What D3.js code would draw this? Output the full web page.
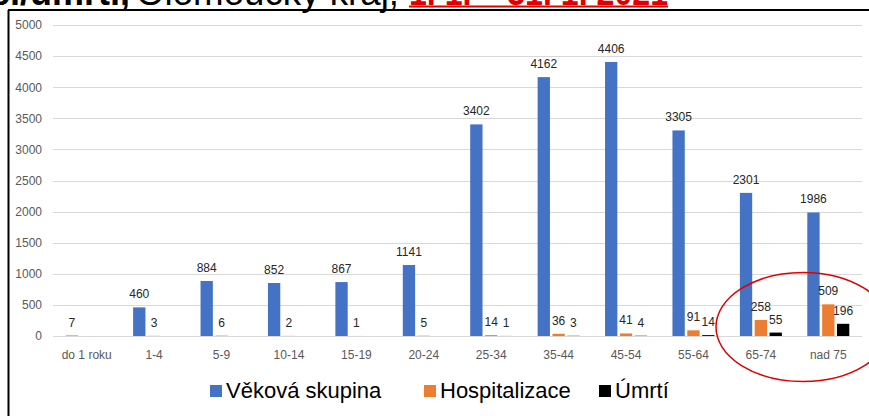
<!DOCTYPE html>
<html><head><meta charset="utf-8">
<script src="https://cdn.jsdelivr.net/npm/d3@7"></script>
<style>body{margin:0;background:#fff}svg{display:block}</style>
</head><body>
<svg id="c" width="869" height="416"></svg>
<script>
const categories = ["do 1 roku","1-4","5-9","10-14","15-19","20-24","25-34","35-44","45-54","55-64","65-74","nad 75"];
const vekovaSkupina = [7,460,884,852,867,1141,3402,4162,4406,3305,2301,1986];
const hospitalizace = [null,3,6,2,1,5,14,36,41,91,258,509];
const umrti = [null,null,null,null,null,null,1,3,4,14,55,196];
const seriesNames = ["Věková skupina","Hospitalizace","Úmrtí"];
const seriesColors = ["#4472C4","#ED7D31","#000000"];
const yTicks = [0,500,1000,1500,2000,2500,3000,3500,4000,4500,5000];

const svg = d3.select("#c");
const font = "'Liberation Sans', Arial, sans-serif";

// cut-off title at top
const t = svg.append("g").attr("font-family", font).attr("font-size", 36);
t.append("text").attr("x",130).attr("y",5).attr("text-anchor","end").attr("font-weight","bold").attr("fill","#000").text("Počet nakažených/hospitalizací/úmrtí,");
t.append("text").attr("x",136).attr("y",5).attr("fill","#000")
  .attr("textLength",263).attr("lengthAdjust","spacingAndGlyphs").text("Olomoucký kraj,");
t.append("text").attr("x",409).attr("y",5).attr("font-weight","bold").attr("fill","#e00000")
  .attr("textLength",259).attr("lengthAdjust","spacingAndGlyphs").text("1. 1. – 31. 1. 2021");
t.append("line").attr("x1",409).attr("x2",668).attr("y1",6.5).attr("y2",6.5).attr("stroke","#e00000").attr("stroke-width",2);

// frame
svg.append("line").attr("x1",8).attr("x2",869).attr("y1",10).attr("y2",10).attr("stroke","#000").attr("stroke-width",2);
svg.append("line").attr("x1",8.5).attr("x2",8.5).attr("y1",10).attr("y2",416).attr("stroke","#000").attr("stroke-width",2);

const x0 = d3.scaleBand().domain(categories).range([53,862]).paddingInner(0.377).paddingOuter(0.1885);
const x1 = d3.scaleBand().domain(seriesNames).range([0,x0.bandwidth()]).paddingInner(0.17);
const y = d3.scaleLinear().domain([0,5000]).range([336,25]);

// gridlines
svg.append("g").selectAll("line").data(yTicks).join("line")
  .attr("x1",53).attr("x2",862).attr("y1",d=>Math.round(y(d))+0.5).attr("y2",d=>Math.round(y(d))+0.5)
  .attr("stroke","#d9d9d9").attr("stroke-width",1);

// y axis
const yAxis = svg.append("g").attr("transform","translate(46,0)")
  .call(d3.axisLeft(y).tickValues(yTicks).tickFormat(d3.format("d")).tickSize(0).tickPadding(4));
yAxis.select(".domain").remove();
yAxis.selectAll("text").attr("font-family",font).attr("font-size",12).attr("fill","#595959");

// x axis
const xAxis = svg.append("g").attr("transform","translate(0,336)")
  .call(d3.axisBottom(x0).tickSize(0).tickPadding(14));
xAxis.select(".domain").remove();
xAxis.selectAll("text").attr("font-family",font).attr("font-size",12).attr("fill","#595959");

const series = [vekovaSkupina, hospitalizace, umrti];
series.forEach((vals, si) => {
  const g = svg.append("g");
  const data = categories.map((c,i)=>({c, v: vals[i]})).filter(d=>d.v!==null);
  g.selectAll("rect").data(data).join("rect")
    .attr("x", d=>x0(d.c)+x1(seriesNames[si]))
    .attr("width", x1.bandwidth())
    .attr("y", d=>y(d.v))
    .attr("height", d=>y(0)-y(d.v))
    .attr("fill", seriesColors[si]);
  g.selectAll("text").data(data).join("text")
    .attr("x", d=>x0(d.c)+x1(seriesNames[si])+x1.bandwidth()/2)
    .attr("y", d=>y(d.v)-9)
    .attr("text-anchor","middle")
    .attr("font-family",font).attr("font-size",12).attr("fill","#262626")
    .text(d=>d.v);
});

// legend
const legendX = [210, 424, 599];
const lg = svg.append("g");
seriesNames.forEach((n,i)=>{
  lg.append("rect").attr("x",legendX[i]).attr("y",385).attr("width",12).attr("height",12).attr("fill",seriesColors[i]);
  lg.append("text").attr("x",legendX[i]+16).attr("y",398).attr("font-family",font).attr("font-size",22).attr("fill","#000").text(n);
});

// red ellipse highlight
svg.append("ellipse").attr("cx",803).attr("cy",327).attr("rx",87).attr("ry",54.5)
  .attr("fill","none").attr("stroke","#e00000").attr("stroke-width",1.5);
</script>
</body></html>
